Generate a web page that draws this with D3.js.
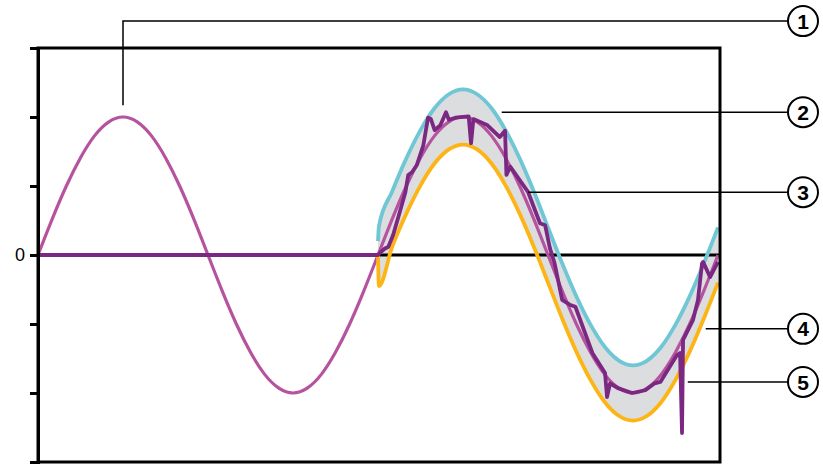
<!DOCTYPE html>
<meta charset="utf-8">
<script src="https://cdn.jsdelivr.net/npm/d3@7"></script>
<style>
body { margin: 0; background: #fff; }
</style>
<body>
<script>
// reference wave, read every 15 degrees over two cycles
var refDeg = d3.range(0, 721, 15);
var refValues = [0, 0.52, 1, 1.41, 1.73, 1.93, 2, 1.93, 1.73, 1.41, 1, 0.52,
  0, -0.52, -1, -1.41, -1.73, -1.93, -2, -1.93, -1.73, -1.41, -1, -0.52,
  0, 0.52, 1, 1.41, 1.73, 1.93, 2, 1.93, 1.73, 1.41, 1, 0.52,
  0, -0.52, -1, -1.41, -1.73, -1.93, -2, -1.93, -1.73, -1.41, -1, -0.52, 0];

// tolerance envelope (second cycle only)
var envDeg = [360, 361, 375, 390, 405, 420, 435, 450, 465, 480, 495, 510, 525, 540,
  555, 570, 585, 600, 615, 630, 645, 660, 675, 690, 705, 720];
var upperValues = [0.2, 0.42, 0.92, 1.4, 1.81, 2.13, 2.33, 2.4, 2.33, 2.13, 1.81, 1.4, 0.92, 0.4,
  -0.12, -0.6, -1.01, -1.33, -1.53, -1.6, -1.53, -1.33, -1.01, -0.6, -0.12, 0.4];
var lowerValues = [0, -0.45, 0.12, 0.6, 1.01, 1.33, 1.53, 1.6, 1.53, 1.33, 1.01, 0.6, 0.12, -0.4,
  -0.92, -1.4, -1.81, -2.13, -2.33, -2.4, -2.33, -2.13, -1.81, -1.4, -0.92, -0.4];

// measured signal (flat, then noisy)
var measDeg = [0, 360, 362, 367, 371, 376, 383, 389, 392, 396, 401, 408, 413, 416, 420, 426,
  432, 435, 442, 456, 458.5, 461, 476, 489, 494.5, 496, 500, 519, 531.5, 537, 542, 547,
  555, 563, 569, 587, 600.4, 602.5, 605.7, 614, 629, 643, 653, 659, 676.6, 679.8, 681.9,
  683, 693.6, 698.8, 703.1, 704.2, 711.6, 720];
var measValues = [0, 0, 0.03, 0.09, 0.12, 0.29, 0.62, 0.91, 1.16, 1.2, 1.3, 1.59, 1.99, 1.97,
  1.81, 1.88, 2.07, 1.96, 1.99, 2.01, 1.62, 1.97, 1.88, 1.71, 1.8, 1.16, 1.28, 0.91, 0.46,
  0.43, 0.1, -0.12, -0.65, -0.72, -0.75, -1.42, -1.71, -2.06, -1.86, -1.93, -2.0, -1.96,
  -1.86, -1.84, -1.45, -1.42, -2.58, -1.23, -0.94, -0.65, -0.12, -0.1, -0.32, -0.1];

var yTicks = [-3, -2, -1, 0, 1, 2, 3];
var callouts = [
  {n: "1", deg: 90, v: 2.17, up: 3.39},
  {n: "2", deg: 491, v: 2.07},
  {n: "3", deg: 519, v: 0.91},
  {n: "4", deg: 707, v: -1.07},
  {n: "5", deg: 688, v: -1.84}
];

var width = 823, height = 465;
var plotL = 38, plotR = 720, plotT = 48, plotB = 462;

var x = d3.scaleLinear().domain([0, 720]).range([plotL, 718]);
var y = d3.scaleLinear().domain([-3, 3]).range([plotB, plotT]);

var svg = d3.select("body").append("svg")
    .attr("width", width)
    .attr("height", height);

var ref = refDeg.map(function(d, i) { return {d: d, v: refValues[i]}; });
var env = envDeg.map(function(d, i) { return {d: d, hi: upperValues[i], lo: lowerValues[i]}; });
var meas = measDeg.map(function(d, i) { return {d: d, v: measValues[i]}; });

// grey band
svg.append("path")
    .datum(env)
    .attr("fill", "#dcdddf")
    .attr("d", d3.area()
      .x(function(d) { return x(d.d); })
      .y0(function(d) { return y(d.lo); })
      .y1(function(d) { return y(d.hi); })
      .curve(d3.curveMonotoneX));

// zero line
svg.append("line")
    .attr("x1", plotL).attr("x2", plotR)
    .attr("y1", y(0)).attr("y2", y(0))
    .attr("stroke", "#000").attr("stroke-width", 3);

var line = d3.line()
    .x(function(d) { return x(d.d); })
    .y(function(d) { return y(d.v); });

svg.append("path")
    .datum(ref)
    .attr("fill", "none")
    .attr("stroke", "#b6539f")
    .attr("stroke-width", 3.2)
    .attr("d", line.curve(d3.curveNatural));

svg.append("path")
    .datum(env)
    .attr("fill", "none")
    .attr("stroke", "#6fc7d6")
    .attr("stroke-width", 3.8)
    .attr("d", d3.line().x(function(d) { return x(d.d); }).y(function(d) { return y(d.hi); }).curve(d3.curveMonotoneX));

svg.append("path")
    .datum(env)
    .attr("fill", "none")
    .attr("stroke", "#fdb515")
    .attr("stroke-width", 3.8)
    .attr("d", d3.line().x(function(d) { return x(d.d); }).y(function(d) { return y(d.lo); }).curve(d3.curveMonotoneX));

svg.append("path")
    .datum(meas)
    .attr("fill", "none")
    .attr("stroke", "#7b2883")
    .attr("stroke-width", 3.8)
    .attr("stroke-linejoin", "round")
    .attr("d", line.curve(d3.curveLinear));

// frame
svg.append("path")
    .attr("fill", "none")
    .attr("stroke", "#000")
    .attr("stroke-width", 3)
    .attr("d", "M" + plotL + "," + plotT + "H" + plotR + "V" + plotB + "H" + plotL + "Z");

var axis = svg.append("g")
    .attr("transform", "translate(" + plotL + ",0)")
    .call(d3.axisLeft(y)
      .tickValues(yTicks)
      .tickSize(8)
      .tickPadding(5)
      .tickFormat(function(d) { return d === 0 ? "0" : ""; }));
axis.select(".domain").attr("stroke-width", 3);
axis.selectAll(".tick line").attr("stroke-width", 3);
axis.selectAll("text")
    .style("font-family", "'Liberation Sans', Arial, sans-serif")
    .style("font-size", "18px")
    .attr("fill", "#000");

// callouts
var cx = 803, r = 15;
var co = svg.append("g");
callouts.forEach(function(c) {
  var yy = c.up !== undefined ? y(c.up) : y(c.v);
  var path = c.up !== undefined
    ? "M" + x(c.deg) + "," + y(c.v) + "V" + yy + "H" + (cx - r)
    : "M" + x(c.deg) + "," + yy + "H" + (cx - r);
  co.append("path")
    .attr("d", path)
    .attr("fill", "none")
    .attr("stroke", "#000")
    .attr("stroke-width", 1.5);
  co.append("circle")
    .attr("cx", cx).attr("cy", yy).attr("r", r)
    .attr("fill", "#fff")
    .attr("stroke", "#000")
    .attr("stroke-width", 2);
  co.append("text")
    .attr("x", cx).attr("y", yy)
    .attr("dy", "0.36em")
    .attr("text-anchor", "middle")
    .style("font-family", "'Liberation Sans', Arial, sans-serif")
    .style("font-size", "21px")
    .style("font-weight", "bold")
    .text(c.n);
});
</script>
</body>
</html>
